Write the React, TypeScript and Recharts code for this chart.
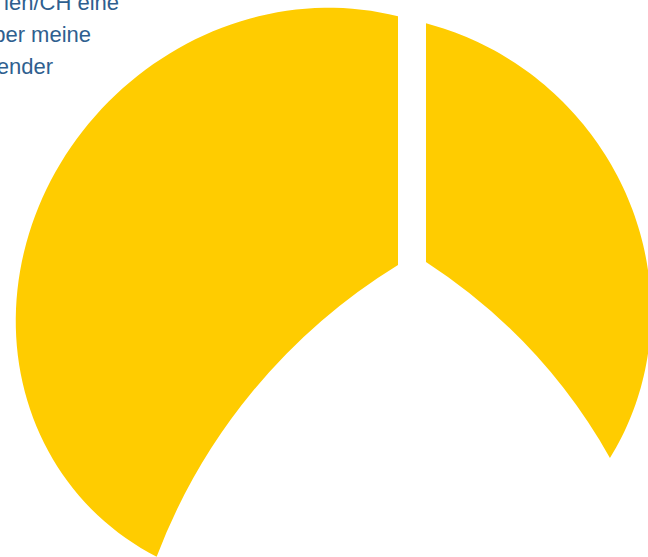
import React from "react";
import { PieChart, Pie, Cell } from "recharts";

// shares, clockwise from 12 o'clock
const segments = ["Segment A", "Segment B", "Segment C"];
const shares = [38, 23, 39];
const segmentColors = ["#FFCC00", "#FFFFFF", "#FFCC00"];

// what is left of the caption inside the crop
const captionLines = ["ien/CH eine", "ber meine", "ender"];

const data = segments.map((name, i) => ({ name, value: shares[i] }));

const WIDTH = 648;
const HEIGHT = 557;
const CENTER_X = 411;
const CENTER_Y = 264;
const RAD = Math.PI / 180;

type Rim = { dx: number; dy: number; rx: number; ry: number; rot: number };
type SliceLook = { shift: [number, number]; rim: Rim; bend: number; straight: "start" | "end" };

// the yellow pieces are pulled apart and each one has its own rim;
// the edge towards the empty piece is bowed
const sliceLooks: Record<string, SliceLook> = {
  "Segment A": { shift: [15, -2], rim: { dx: -46, dy: 36, rx: 280, ry: 292, rot: -45 }, bend: 565, straight: "start" },
  "Segment C": { shift: [-13, 1], rim: { dx: -106, dy: 33, rx: 301, ry: 277, rot: -45 }, bend: 586, straight: "end" },
};

const ray = (deg: number) => [Math.cos(deg * RAD), -Math.sin(deg * RAD)];

// angle on the rim ellipse where a ray from p leaves it
function hitRim(p: number[], d: number[], e: number[], rim: Rim, u: number[], v: number[]) {
  const q = [p[0] - e[0], p[1] - e[1]];
  const qa = (q[0] * u[0] + q[1] * u[1]) / rim.rx;
  const qb = (q[0] * v[0] + q[1] * v[1]) / rim.ry;
  const da = (d[0] * u[0] + d[1] * u[1]) / rim.rx;
  const db = (d[0] * v[0] + d[1] * v[1]) / rim.ry;
  const A = da * da + db * db;
  const B = 2 * (qa * da + qb * db);
  const C = qa * qa + qb * qb - 1;
  const t = (-B + Math.sqrt(Math.max(0, B * B - 4 * A * C))) / (2 * A);
  return Math.atan2(qb + t * db, qa + t * da);
}

const ExplodedSlice = (props: any) => {
  const { cx, cy, startAngle, endAngle, fill } = props;
  const look = sliceLooks[props.name ?? props.payload?.name];
  if (!look) return <g />;

  const apex = [cx + look.shift[0], cy + look.shift[1]];
  const e = [cx + look.rim.dx, cy + look.rim.dy];
  const r = look.rim.rot * RAD;
  const u = [Math.cos(r), Math.sin(r)];
  const v = [-Math.sin(r), Math.cos(r)];
  const clockwise = look.straight === "start";

  const phiS = hitRim(apex, ray(clockwise ? startAngle : endAngle), e, look.rim, u, v);
  let phiC = hitRim(apex, ray(clockwise ? endAngle : startAngle), e, look.rim, u, v);
  if (clockwise) while (phiC < phiS) phiC += 2 * Math.PI;
  else while (phiC > phiS) phiC -= 2 * Math.PI;

  const steps = 90;
  let d = `M${apex[0]},${apex[1]}`;
  for (let k = 0; k <= steps; k++) {
    const phi = phiS + ((phiC - phiS) * k) / steps;
    const x = e[0] + look.rim.rx * Math.cos(phi) * u[0] + look.rim.ry * Math.sin(phi) * v[0];
    const y = e[1] + look.rim.rx * Math.cos(phi) * u[1] + look.rim.ry * Math.sin(phi) * v[1];
    d += ` L${x.toFixed(2)},${y.toFixed(2)}`;
  }
  d += ` A${look.bend},${look.bend} 0 0 ${clockwise ? 0 : 1} ${apex[0]},${apex[1]} Z`;

  return <path d={d} fill={fill} stroke="none" />;
};

export default function App() {
  return (
    <div style={{ position: "absolute", left: 0, top: 0, width: WIDTH, height: HEIGHT, background: "#fff" }}>
      <PieChart width={WIDTH} height={HEIGHT} margin={{ top: 0, right: 0, bottom: 0, left: 0 }}>
        <Pie
          data={data}
          dataKey="value"
          nameKey="name"
          cx={CENTER_X}
          cy={CENTER_Y}
          outerRadius={280}
          startAngle={90}
          endAngle={-270}
          stroke="none"
          shape={ExplodedSlice}
          isAnimationActive={false}
        >
          {data.map((entry, i) => (
            <Cell key={entry.name} fill={segmentColors[i]} />
          ))}
        </Pie>
      </PieChart>
      <svg
        width={WIDTH}
        height={HEIGHT}
        style={{ position: "absolute", left: 0, top: 0, pointerEvents: "none" }}
      >
        {captionLines.map((line, i) => (
          <text
            key={line}
            x={[119, 91, 53][i]}
            y={10 + i * 32}
            textAnchor="end"
            fontFamily="'Liberation Sans', Arial, sans-serif"
            fontSize={22}
            fill="#2f5f8f"
          >
            {line}
          </text>
        ))}
      </svg>
    </div>
  );
}
